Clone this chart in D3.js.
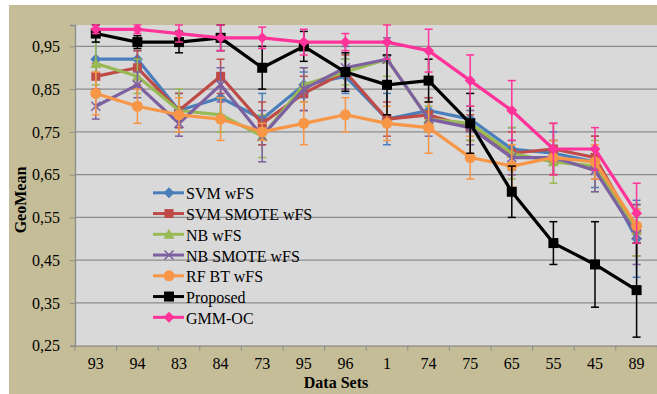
<!DOCTYPE html>
<html>
<head>
<meta charset="utf-8">
<script src="https://cdn.jsdelivr.net/npm/d3@7/dist/d3.min.js"></script>
<style>
  body { margin: 0; background: #fff; }
  svg { display: block; font-family: "Liberation Serif", "Times New Roman", serif; }
</style>
</head>
<body>
<svg id="chart" width="657" height="394"></svg>
<script>
var dataSets = ["93", "94", "83", "84", "73", "95", "96", "1", "74", "75", "65", "55", "45", "89"]
var yTicks = [0.25, 0.35, 0.45, 0.55, 0.65, 0.75, 0.85, 0.95]

var svmWFS      = [0.92, 0.92, 0.80, 0.83, 0.78, 0.86, 0.88, 0.78, 0.80, 0.78, 0.71, 0.70, 0.68, 0.50]
var svmWFSErr   = [0.04, 0.02, 0.04, 0.04, 0.06, 0.03, 0.04, 0.06, 0.03, 0.03, 0.05, 0.05, 0.06, 0.09]
var svmSmote    = [0.88, 0.90, 0.80, 0.88, 0.77, 0.84, 0.89, 0.78, 0.79, 0.76, 0.70, 0.71, 0.69, 0.52]
var svmSmoteErr = [0.03, 0.04, 0.04, 0.04, 0.05, 0.04, 0.04, 0.04, 0.04, 0.03, 0.05, 0.06, 0.05, 0.06]
var nbWFS       = [0.91, 0.88, 0.80, 0.79, 0.74, 0.86, 0.89, 0.92, 0.78, 0.77, 0.70, 0.68, 0.67, 0.52]
var nbWFSErr    = [0.05, 0.04, 0.05, 0.04, 0.05, 0.04, 0.03, 0.04, 0.03, 0.04, 0.06, 0.05, 0.06, 0.06]
var nbSmote     = [0.81, 0.86, 0.77, 0.86, 0.74, 0.85, 0.90, 0.92, 0.78, 0.76, 0.69, 0.69, 0.66, 0.51]
var nbSmoteErr  = [0.03, 0.03, 0.03, 0.04, 0.06, 0.05, 0.05, 0.05, 0.04, 0.04, 0.04, 0.04, 0.05, 0.07]
var rfBT        = [0.84, 0.81, 0.79, 0.78, 0.75, 0.77, 0.79, 0.77, 0.76, 0.69, 0.67, 0.69, 0.68, 0.53]
var rfBTErr     = [0.05, 0.04, 0.04, 0.05, 0.02, 0.05, 0.04, 0.04, 0.06, 0.05, 0.05, 0.04, 0.04, 0.04]
var proposed    = [0.98, 0.96, 0.96, 0.97, 0.90, 0.95, 0.89, 0.86, 0.87, 0.77, 0.61, 0.49, 0.44, 0.38]
var proposedErr = [0.02, 0.015, 0.025, 0.03, 0.05, 0.035, 0.045, 0.07, 0.05, 0.07, 0.06, 0.05, 0.10, 0.11]
var gmmOC       = [0.99, 0.99, 0.98, 0.97, 0.97, 0.96, 0.96, 0.96, 0.94, 0.87, 0.80, 0.71, 0.71, 0.56]
var gmmOCErr    = [0.01, 0.01, 0.02, 0.03, 0.025, 0.03, 0.02, 0.04, 0.05, 0.06, 0.07, 0.06, 0.05, 0.07]

var series = [
  {name: "SVM wFS", values: svmWFS, err: svmWFSErr, color: "#4a7ebb", marker: "diamond"},
  {name: "SVM SMOTE wFS", values: svmSmote, err: svmSmoteErr, color: "#be4b48", marker: "square"},
  {name: "NB wFS", values: nbWFS, err: nbWFSErr, color: "#98b954", marker: "triangle"},
  {name: "NB SMOTE wFS", values: nbSmote, err: nbSmoteErr, color: "#7d60a0", marker: "x"},
  {name: "RF BT wFS", values: rfBT, err: rfBTErr, color: "#f79646", marker: "circle"},
  {name: "Proposed", values: proposed, err: proposedErr, color: "#000000", marker: "bigsquare"},
  {name: "GMM-OC", values: gmmOC, err: gmmOCErr, color: "#ff3399", marker: "diamond"}
]

var svg = d3.select("#chart")
var plotL = 75, plotR = 657.4, plotT = 25, plotB = 345.7

// outer chart area
svg.append("rect").attr("x", 9).attr("y", 5).attr("width", 660).attr("height", 400).style("fill", "#c4bd97")
svg.append("rect").attr("x", plotL).attr("y", plotT).attr("width", plotR - plotL).attr("height", plotB - plotT).style("fill", "#d9d9d9")

var x = d3.scaleBand().domain(dataSets).range([plotL, plotR])
var y = d3.scaleLinear().domain([0.25, 1.0]).range([plotB, plotT])
function cx(i){ return x(dataSets[i]) + x.bandwidth() / 2 }

// gridlines
svg.append("g").selectAll("line").data(yTicks.slice(1)).enter().append("line")
  .attr("x1", plotL).attr("x2", plotR)
  .attr("y1", function(d){ return y(d) }).attr("y2", function(d){ return y(d) })
  .style("stroke", "#8c8c8c").style("stroke-width", 1.3)

// axes
var yAxis = svg.append("g").attr("transform", "translate(" + plotL + ",0)")
  .call(d3.axisLeft(y).tickValues(yTicks).tickSize(5).tickPadding(10)
    .tickFormat(function(d){ return d3.format(".2f")(d).replace(".", ",") }))
yAxis.select(".domain").style("stroke", "#8c8c8c").style("stroke-width", 1.3)
yAxis.selectAll(".tick line").style("stroke", "#8c8c8c")
yAxis.selectAll("text").style("font-family", "Liberation Serif").style("font-size", "16px").style("fill", "#000")

var xAxis = svg.append("g").attr("transform", "translate(0," + plotB + ")")
  .call(d3.axisBottom(x).tickSize(0).tickPadding(12))
xAxis.select(".domain").style("stroke", "#8c8c8c").style("stroke-width", 1.3)
xAxis.selectAll("text").style("font-family", "Liberation Serif").style("font-size", "16px").style("fill", "#000")
svg.append("g").selectAll("line").data(d3.range(dataSets.length + 1)).enter().append("line")
  .attr("x1", function(d){ return plotL + d * x.bandwidth() })
  .attr("x2", function(d){ return plotL + d * x.bandwidth() })
  .attr("y1", plotB).attr("y2", plotB + 5)
  .style("stroke", "#8c8c8c").style("stroke-width", 1)

// axis titles
svg.append("text").attr("x", 336).attr("y", 388).attr("text-anchor", "middle")
  .style("font-size", "16px").style("font-weight", "bold").text("Data Sets")
svg.append("text").attr("transform", "translate(26,200) rotate(-90)").attr("text-anchor", "middle")
  .style("font-size", "16px").style("font-weight", "bold").text("GeoMean")

function drawMarker(g, type, px, py, color){
  if (type == "diamond") {
    g.append("path").attr("d", "M" + px + "," + (py - 5.5) + "L" + (px + 5.5) + "," + py + "L" + px + "," + (py + 5.5) + "L" + (px - 5.5) + "," + py + "Z").style("fill", color)
  } else if (type == "square") {
    g.append("rect").attr("x", px - 4.5).attr("y", py - 4.5).attr("width", 9).attr("height", 9).style("fill", color)
  } else if (type == "bigsquare") {
    g.append("rect").attr("x", px - 5).attr("y", py - 5).attr("width", 10).attr("height", 10).style("fill", color)
  } else if (type == "triangle") {
    g.append("path").attr("d", "M" + px + "," + (py - 5.5) + "L" + (px + 5.5) + "," + (py + 4.5) + "L" + (px - 5.5) + "," + (py + 4.5) + "Z").style("fill", color)
  } else if (type == "x") {
    g.append("path").attr("d", "M" + (px - 4.5) + "," + (py - 4.5) + "L" + (px + 4.5) + "," + (py + 4.5) + "M" + (px + 4.5) + "," + (py - 4.5) + "L" + (px - 4.5) + "," + (py + 4.5))
      .style("stroke", color).style("stroke-width", 1.5)
  } else if (type == "circle") {
    g.append("circle").attr("cx", px).attr("cy", py).attr("r", 5.5).style("fill", color)
  }
}

var line = d3.line().x(function(d, i){ return cx(i) }).y(function(d){ return y(d) })

series.forEach(function(s){
  var g = svg.append("g")
  // error bars
  s.values.forEach(function(v, i){
    var hi = Math.min(v + s.err[i], 1.0), lo = v - s.err[i]
    g.append("line").attr("x1", cx(i)).attr("x2", cx(i)).attr("y1", y(hi)).attr("y2", y(lo))
      .style("stroke", s.color).style("stroke-width", 1.5)
    ;[v + s.err[i], lo].forEach(function(c){
      if (c > 1.0) return
      g.append("line").attr("x1", cx(i) - 4).attr("x2", cx(i) + 4).attr("y1", y(c)).attr("y2", y(c))
        .style("stroke", s.color).style("stroke-width", 1.5)
    })
  })
  g.append("path").datum(s.values).attr("d", line)
    .style("fill", "none").style("stroke", s.color).style("stroke-width", 3.2).style("stroke-linejoin", "round")
  s.values.forEach(function(v, i){ drawMarker(g, s.marker, cx(i), y(v), s.color) })
})

// legend
var leg = svg.append("g")
series.forEach(function(s, i){
  var ly = 192.8 + i * 20.75
  leg.append("line").attr("x1", 153).attr("x2", 184).attr("y1", ly).attr("y2", ly)
    .style("stroke", s.color).style("stroke-width", 3)
  drawMarker(leg, s.marker, 169, ly, s.color)
  leg.append("text").attr("x", 186).attr("y", ly + 6.5).style("font-size", "16px").text(s.name)
})
</script>
</body>
</html>
